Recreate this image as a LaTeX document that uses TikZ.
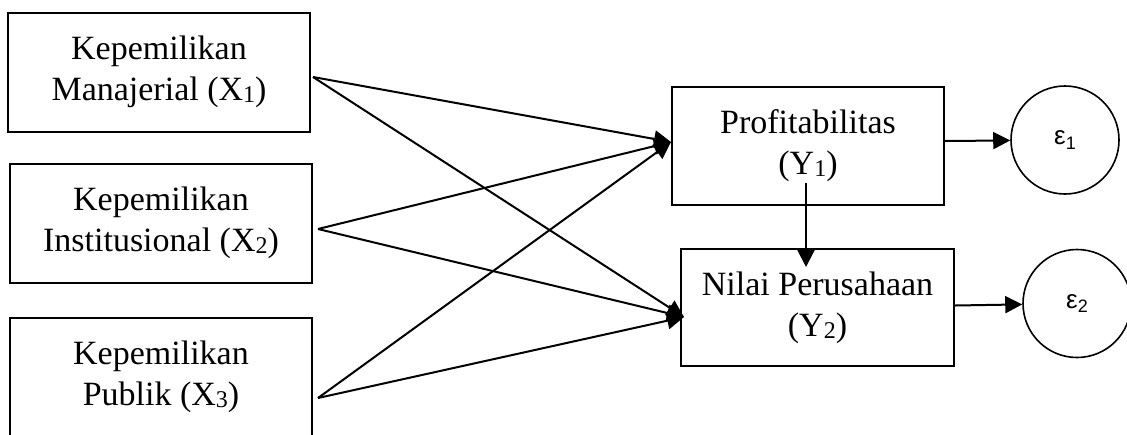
\documentclass[tikz,border=0pt]{standalone}
\usepackage{fontspec}
\setmainfont{Liberation Serif}
\setsansfont{Liberation Sans}
\usetikzlibrary{arrows.meta}
\newcommand{\subidx}[1]{\raisebox{-0.12ex}{\fontsize{12}{12}\selectfont #1}}
\newcommand{\errsub}[1]{\raisebox{-0.3ex}{\fontsize{9}{9}\selectfont #1}}
\tikzset{
  every var box/.style={draw,line width=1pt,align=center,font=\fontsize{17}{20.5}\selectfont},
  xbox/.style={every var box,minimum width=151pt,minimum height=59.5pt},
  ybox/.style={every var box,minimum width=136pt,minimum height=59pt},
  errc/.style={draw,circle,line width=0.8pt,minimum size=54pt,inner sep=0pt,font=\sffamily\fontsize{13}{15}\selectfont},
  arr/.style={line width=1pt,-{Triangle[length=8.5pt,width=8.5pt]}},
}
\begin{document}
\begin{tikzpicture}[x=0.5pt,y=-0.5pt]
\useasboundingbox (0,0) rectangle (1127,434);
\node[xbox] (x1) at (159,72) {Kepemilikan\\Manajerial (X\subidx{1})};
\node[xbox] (x2) at (161,223) {Kepemilikan\\Institusional (X\subidx{2})};
\node[xbox] (x3) at (161,377) {Kepemilikan\\Publik (X\subidx{3})};
\node[ybox] (y1) at (808,146) {Profitabilitas\\(Y\subidx{1})};
\node[ybox,minimum width=136.5pt,minimum height=58.5pt] (y2) at (817.5,307.5) {Nilai Perusahaan\\(Y\subidx{2})};
\node[errc] (e1) at (1065,140) {ε\errsub{1}};
\node[errc] (e2) at (1077,303.5) {ε\errsub{2}};
% ends of the paths
\coordinate (x1o) at ([xshift=1pt,yshift=-2.5pt]x1.east);
\coordinate (x2o) at ([xshift=2.5pt,yshift=-3pt]x2.east);
\coordinate (x3o) at ([xshift=2.5pt,yshift=-10.5pt]x3.east);
\coordinate (y1i) at ([yshift=2pt]y1.west);
\coordinate (y2i) at ([xshift=2pt,yshift=-4.75pt]y2.west);
\foreach \src in {x1o,x2o,x3o}
{
  \foreach \dst in {y1i,y2i}
    \draw[arr] (\src) -- (\dst);
}
\draw[arr] ([yshift=2.5pt]y1.east) -- (e1);
\draw[arr] ([yshift=1pt]y2.east) -- (e2);
\draw[arr] ([xshift=-1pt,yshift=-18.5pt]y1.center) -- ([xshift=-5.75pt,yshift=-9.5pt]y2.north);
\end{tikzpicture}
\end{document}
